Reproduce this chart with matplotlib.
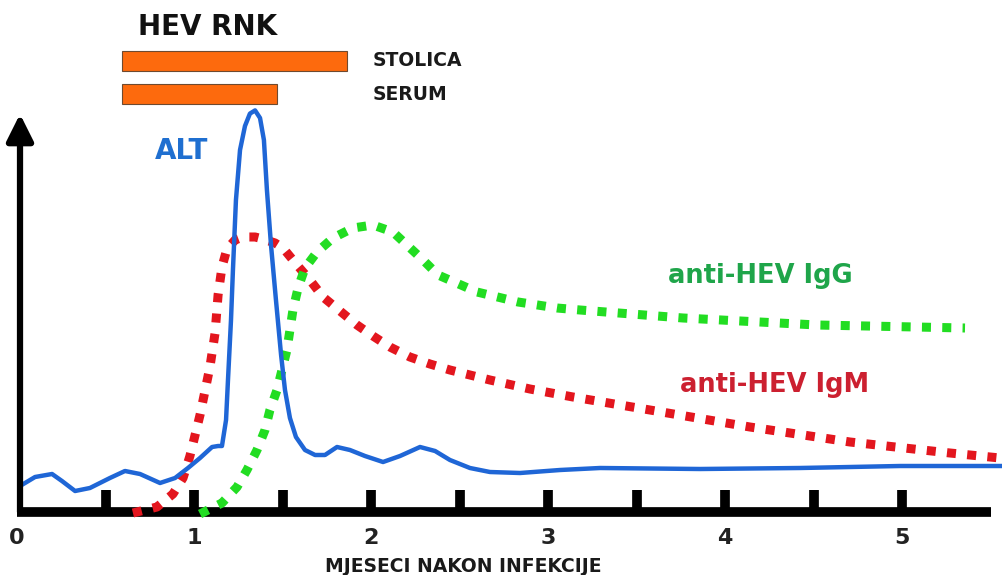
import matplotlib
matplotlib.use("Agg")
import matplotlib.pyplot as plt

# mjeseci nakon infekcije (x) i relativna razina (y)
alt_x = [0.017, 0.102, 0.198, 0.254, 0.328, 0.412, 0.525, 0.610, 0.695, 0.808, 0.893, 0.966,
         1.034, 1.102, 1.136, 1.158, 1.181, 1.192, 1.209, 1.220, 1.237, 1.260, 1.288, 1.316,
         1.345, 1.373, 1.395, 1.412, 1.435, 1.463, 1.492, 1.514, 1.542, 1.576, 1.627, 1.684,
         1.740, 1.808, 1.881, 1.966, 2.068, 2.164, 2.277, 2.362, 2.446, 2.559, 2.672, 2.842,
         3.068, 3.294, 3.859, 4.424, 4.989, 5.565]
alt_y = [6.5, 8.75, 9.5, 7.75, 5.25, 6.0, 8.5, 10.25, 9.5, 7.25, 8.5, 11.0,
         13.5, 16.25, 16.5, 16.5, 23.0, 33.0, 48.0, 60.5, 78.0, 90.5, 96.5, 99.6,
         100.4, 98.5, 93.0, 80.5, 66.75, 53.0, 39.25, 30.5, 23.5, 18.75, 15.5, 14.25,
         14.25, 16.25, 15.5, 14.0, 12.5, 14.0, 16.25, 15.25, 13.0, 11.0, 10.0, 9.75,
         10.5, 11.0, 10.75, 11.0, 11.5, 11.5]

igm_x = [0.655, 0.791, 0.881, 0.938, 0.977, 1.034, 1.090, 1.119, 1.136, 1.158, 1.186, 1.232,
         1.277, 1.345, 1.390, 1.458, 1.503, 1.582, 1.655, 1.729, 1.825, 1.921, 2.011, 2.107,
         2.220, 2.333, 2.446, 2.672, 2.898, 3.141, 3.576, 4.141, 4.706, 5.271, 5.554]
igm_y = [-0.25, 1.25, 4.5, 8.5, 14.0, 24.25, 36.25, 44.75, 54.25, 61.25, 65.75, 68.0,
         68.75, 68.75, 68.25, 67.25, 66.0, 61.75, 58.0, 53.75, 50.25, 46.75, 44.0, 41.25,
         38.75, 37.0, 35.5, 33.0, 30.75, 28.75, 25.5, 21.25, 17.5, 14.75, 13.5]

igg_x = [1.034, 1.158, 1.243, 1.299, 1.356, 1.401, 1.429, 1.469, 1.497, 1.525, 1.542, 1.559,
         1.588, 1.627, 1.695, 1.785, 1.898, 2.011, 2.124, 2.209, 2.294, 2.379, 2.599, 2.831,
         3.051, 3.181, 3.763, 4.520, 5.356]
igg_y = [-0.5, 2.25, 6.25, 10.5, 15.5, 20.5, 25.5, 30.5, 35.5, 40.5, 45.5, 50.5,
         56.0, 61.0, 65.0, 68.5, 71.0, 71.75, 70.0, 66.5, 63.0, 59.25, 55.0, 52.5,
         51.0, 50.5, 48.5, 46.75, 46.0]

# HEV RNK trajanje
rnk_labels = ["STOLICA", "SERUM"]
rnk_start = [0.593, 0.593]
rnk_end = [1.864, 1.469]
rnk_level = [112.75, 104.5]

ticks_major = [0, 1, 2, 3, 4, 5]
ticks_marks = [0.5, 1, 1.5, 2, 2.5, 3, 3.5, 4, 4.5, 5]

fig = plt.figure(figsize=(10.02, 5.75), dpi=100)
ax = fig.add_axes([0, 0, 1, 1])
ax.set_xlim(-17 / 177, 985 / 177)
ax.set_ylim(-63 / 4, 512 / 4)
ax.axis('off')

# osi
ax.hlines(0, 0, 5.5, color='black', lw=7)
ax.vlines(ticks_marks, 0, 5.5, color='black', lw=7)
ax.annotate('', xy=(0.017, 99.5), xytext=(0.017, 0),
            arrowprops=dict(arrowstyle='-|>,head_width=0.4,head_length=0.8',
                            lw=4.5, color='black', mutation_scale=20,
                            shrinkA=0, shrinkB=0))
for t in ticks_major:
    ax.text(t, -6.5, str(t), ha='center', va='center', fontsize=16,
            fontweight='bold', color='#222222')
ax.text(2.52, -13.5, 'MJESECI NAKON INFEKCIJE', ha='center', va='center',
        fontsize=13.5, fontweight='bold', color='#1a1a1a')

# krivulje
ax.plot(igm_x, igm_y, color='#e3161e', lw=6.5, linestyle=(0, (1, 1.25)),
        dash_capstyle='butt')
ax.plot(igg_x, igg_y, color='#22dd22', lw=6.5, linestyle=(0, (1, 1.25)),
        dash_capstyle='butt')
ax.plot(alt_x, alt_y, color='#1f66d6', lw=3.2, solid_joinstyle='round')

# HEV RNK trake
widths = [e - s for s, e in zip(rnk_start, rnk_end)]
ax.barh(rnk_level, widths, left=rnk_start, height=5.2,
        color='#fd6a0d', edgecolor='#6e4a30', lw=0.8)
for lab, lev in zip(rnk_labels, rnk_level):
    ax.text(2.011, lev, lab, ha='left', va='center', fontsize=13.5,
            fontweight='bold', color='#1a1a1a')
ax.text(1.079, 121.25, 'HEV RNK', ha='center', va='center', fontsize=20,
        fontweight='bold', color='#111111')

ax.text(0.927, 90.25, 'ALT', ha='center', va='center', fontsize=20,
        fontweight='bold', color='#1f6fd0')
ax.text(4.198, 57.25, 'anti-HEV IgG', ha='center', va='baseline', fontsize=18.5,
        fontweight='bold', color='#1fa54a')
ax.text(4.280, 30.0, 'anti-HEV IgM', ha='center', va='baseline', fontsize=18.5,
        fontweight='bold', color='#cc2030')

fig.savefig('out.png', dpi=100)
